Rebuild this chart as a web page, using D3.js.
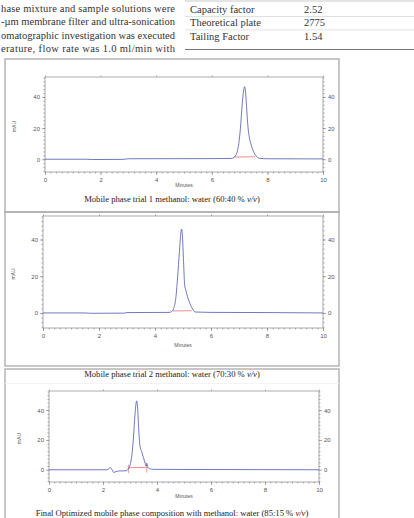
<!DOCTYPE html>
<html>
<head>
<meta charset="utf-8">
<script src="https://cdn.jsdelivr.net/npm/d3@7"></script>
<style>
  body { margin: 0; background: #fff; }
  svg { display: block; }
</style>
</head>
<body>
<div id="chart"></div>
<script>
// chromatogram traces [minutes, mAU]
var trial1 = [[0, 0], [1.5, 0], [1.7, -0.2], [2.8, -0.1], [3.0, 0.3], [6.0, 0.4], [6.7, 0.5], [6.8, 1.2],
  [6.9, 4], [6.97, 10], [7.03, 20], [7.08, 32], [7.13, 42], [7.18, 46.6], [7.22, 42], [7.26, 31],
  [7.3, 21], [7.35, 14], [7.42, 9], [7.5, 5], [7.6, 2], [7.7, 0.6], [8.0, 0.3], [10, 0.2]];
var trial2 = [[0, 0], [1.5, 0], [1.7, -0.2], [2.9, -0.1], [3.0, 0.2], [4.5, 0.3], [4.6, 0.8], [4.68, 3],
  [4.75, 9], [4.81, 20], [4.87, 33], [4.92, 43], [4.95, 45.7], [4.98, 42], [5.02, 28], [5.06, 15],
  [5.1, 12.5], [5.16, 9], [5.25, 5], [5.35, 2], [5.43, 0.5], [6.0, 0.3], [8.0, 0.2], [10, 0]];
var final3 = [[0, 0], [2.15, 0], [2.22, 0.8], [2.27, 1.5], [2.33, 0.2], [2.4, -1.8], [2.48, -1.2],
  [2.6, -0.8], [2.85, -0.7], [2.92, 0.2], [3.0, 3], [3.07, 10], [3.13, 22], [3.18, 36], [3.22, 44],
  [3.25, 46.2], [3.28, 42], [3.32, 28], [3.37, 16], [3.43, 12.2], [3.5, 8], [3.57, 4], [3.6, 2.5],
  [3.62, 4.4], [3.65, 1.8], [3.72, 0.8], [3.85, 0.3], [5.0, 0.2], [10, 0]];
// integration baselines
var base1 = [[6.83, 1.4], [7.55, 1.6]];
var base2 = [[4.64, 1.1], [5.31, 1.2]];
var base3 = [[2.94, 1.3], [3.62, 1.6]];

var yTicks = [0, 20, 40];
var xTicks = [0, 2, 4, 6, 8, 10];
var captions = [
  ["Mobile phase trial 1 methanol: water (60:40 % ", "v/v", ")"],
  ["Mobile phase trial 2 methanol: water (70:30 % ", "v/v", ")"],
  ["Final Optimized mobile phase composition with methanol: water (85:15 % ", "v/v", ")"]
];
var tableRows = [["Capacity factor", "2.52"], ["Theoretical plate", "2775"], ["Tailing Factor", "1.54"]];
var paraLines = [
  "hase mixture and sample solutions were",
  "-\u00b5m membrane filter and ultra-sonication",
  "omatographic investigation was executed",
  "erature, flow rate was 1.0 ml/min with"
];

var W = 414, H = 518;
var svg = d3.select("#chart").append("svg").attr("width", W).attr("height", H);
var serif = "'Liberation Serif', 'DejaVu Serif', serif";

// paragraph text (cut off on the left, justified)
svg.selectAll("text.para")
  .data(paraLines)
  .enter()
  .append("text")
  .attr("class", "para")
  .attr("x", 1)
  .attr("y", function (d, i) { return 12 + i * 13.4; })
  .attr("textLength", 174)
  .attr("lengthAdjust", "spacing")
  .attr("font-family", serif)
  .attr("font-size", 10.5)
  .attr("fill", "#333")
  .text(function (d) { return d; });

// table
var tbl = svg.append("g");
tbl.append("line").attr("x1", 185).attr("x2", W).attr("y1", 1).attr("y2", 1)
  .attr("stroke", "#bbb").attr("stroke-width", 0.8);
tableRows.forEach(function (r, i) {
  var y = 13 + i * 13.4;
  tbl.append("text").attr("x", 190).attr("y", y).attr("font-family", serif).attr("font-size", 10.5)
    .attr("fill", "#333").text(r[0]);
  tbl.append("text").attr("x", 304).attr("y", y).attr("font-family", serif).attr("font-size", 10.5)
    .attr("fill", "#333").text(r[1]);
  if (i < 2) {
    tbl.append("line").attr("x1", 185).attr("x2", W).attr("y1", 16.5 + i * 13.4).attr("y2", 16.5 + i * 13.4)
      .attr("stroke", "#ccc").attr("stroke-width", 0.6);
  }
});
tbl.append("line").attr("x1", 185).attr("x2", W).attr("y1", 49.5).attr("y2", 49.5)
  .attr("stroke", "#777").attr("stroke-width", 1.2);

// figure boxes
var boxes = [[5, 59, 334, 153], [5, 212, 334, 154], [5, 369, 334, 160]];
boxes.forEach(function (b) {
  svg.append("rect").attr("x", b[0]).attr("y", b[1]).attr("width", b[2]).attr("height", b[3])
    .attr("fill", "none").attr("stroke", "#aaa").attr("stroke-width", 1.3);
});
svg.append("line").attr("x1", 5).attr("x2", 339).attr("y1", 383.5).attr("y2", 383.5)
  .attr("stroke", "#f0f0f0").attr("stroke-width", 0.8);

var panels = [
  { trace: trial1, base: base1, x0: 45, x1: 323, y0: 77, y1: 172, ylab: 16, xlabY: 178, minY: 187, capY: 202, cap: captions[0], capX: 172, ticksRed: false },
  { trace: trial2, base: base2, x0: 43, x1: 323, y0: 216, y1: 328, ylab: 15, xlabY: 338, minY: 347, capY: 377, cap: captions[1], capX: 172, ticksRed: false },
  { trace: final3, base: base3, x0: 49, x1: 319, y0: 391, y1: 482, ylab: 21, xlabY: 490, minY: 498, capY: 516, cap: captions[2], capX: 172, ticksRed: true }
];

var sans = "'Liberation Sans', Arial, sans-serif";

panels.forEach(function (p) {
  var x = d3.scaleLinear().domain([0, 10]).range([p.x0, p.x1]);
  var y = d3.scaleLinear().domain([-8.2, 52.8]).range([p.y1, p.y0]);
  var g = svg.append("g");

  g.append("rect").attr("x", p.x0).attr("y", p.y0).attr("width", p.x1 - p.x0).attr("height", p.y1 - p.y0)
    .attr("fill", "none").attr("stroke", "#888").attr("stroke-width", 0.7);

  function styleAxis(sel) {
    sel.select(".domain").remove();
    sel.selectAll("line").attr("stroke", "#777").attr("stroke-width", 0.6);
    sel.selectAll("text").attr("font-family", sans).attr("font-size", 6).attr("fill", "#555");
  }

  var yMinor = d3.range(-7.5, 52.6, 2.5);
  var xMinor = d3.range(0, 10.01, 0.2);

  // minor ticks
  g.append("g").attr("transform", "translate(" + p.x0 + ",0)")
    .call(d3.axisLeft(y).tickValues(yMinor).tickSize(1.5).tickFormat("")).call(styleAxis);
  g.append("g").attr("transform", "translate(" + p.x1 + ",0)")
    .call(d3.axisRight(y).tickValues(yMinor).tickSize(1.5).tickFormat("")).call(styleAxis);
  g.append("g").attr("transform", "translate(0," + p.y1 + ")")
    .call(d3.axisBottom(x).tickValues(xMinor).tickSize(1.5).tickFormat("")).call(styleAxis);
  g.append("g").attr("transform", "translate(0," + p.y0 + ")")
    .call(d3.axisTop(x).tickValues(xTicks).tickSize(1.5).tickFormat("")).call(styleAxis);

  // major ticks with labels
  g.append("g").attr("transform", "translate(" + p.x0 + ",0)")
    .call(d3.axisLeft(y).tickValues(yTicks).tickSize(3).tickPadding(2)).call(styleAxis);
  g.append("g").attr("transform", "translate(" + p.x1 + ",0)")
    .call(d3.axisRight(y).tickValues(yTicks).tickSize(3).tickPadding(2)).call(styleAxis);
  g.append("g").attr("transform", "translate(0," + p.y1 + ")")
    .call(d3.axisBottom(x).tickValues(xTicks).tickSize(3).tickPadding(2.5)).call(styleAxis);

  g.append("text").attr("x", (p.x0 + p.x1) / 2).attr("y", p.minY).attr("text-anchor", "middle")
    .attr("font-family", sans).attr("font-size", 5).attr("fill", "#555").text("Minutes");
  g.append("text").attr("transform", "translate(" + p.ylab + "," + ((p.y0 + p.y1) / 2 + 2) + ") rotate(-90)")
    .attr("text-anchor", "middle").attr("font-family", sans).attr("font-size", 5).attr("fill", "#555").text("mAU");

  var line = d3.line().x(function (d) { return x(d[0]); }).y(function (d) { return y(d[1]); })
    .curve(d3.curveMonotoneX);

  g.append("path").datum(p.base).attr("d", d3.line().x(function (d) { return x(d[0]); }).y(function (d) { return y(d[1]); }))
    .attr("fill", "none").attr("stroke", "#e8706e").attr("stroke-width", 0.8);
  if (p.ticksRed) {
    g.selectAll("line.drop").data(p.base).enter().append("line")
      .attr("x1", function (d) { return x(d[0]); }).attr("x2", function (d) { return x(d[0]); })
      .attr("y1", function (d) { return y(d[1] + 2); }).attr("y2", function (d) { return y(d[1] - 3.5); })
      .attr("stroke", "#e8706e").attr("stroke-width", 0.7);
  }
  g.append("path").datum(p.trace).attr("d", line)
    .attr("fill", "none").attr("stroke", "#4a58b0").attr("stroke-width", 0.8);

  var cap = g.append("text").attr("x", p.capX).attr("y", p.capY).attr("text-anchor", "middle")
    .attr("font-family", serif).attr("font-size", 8.6).attr("fill", "#222");
  cap.append("tspan").text(p.cap[0]);
  cap.append("tspan").attr("font-style", "italic").text(p.cap[1]);
  cap.append("tspan").text(p.cap[2]);
});
</script>
</body>
</html>
